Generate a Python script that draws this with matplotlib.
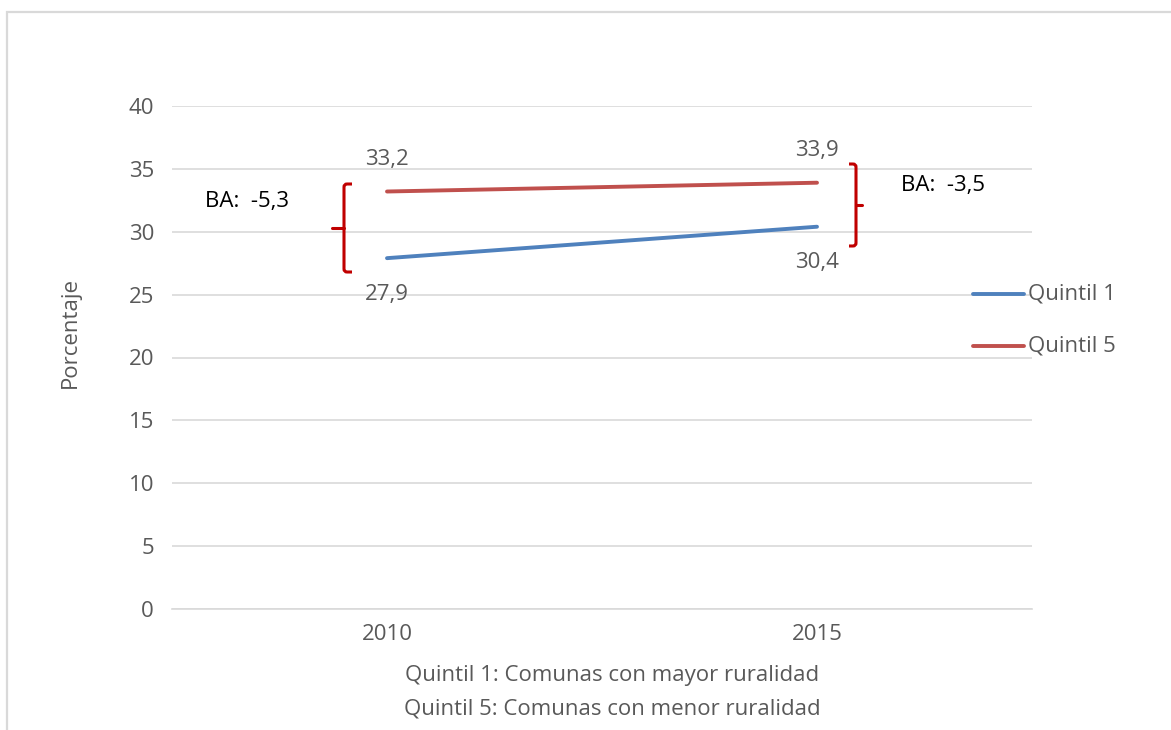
import matplotlib
matplotlib.use("Agg")
import matplotlib.pyplot as plt
from matplotlib.patches import Rectangle
from matplotlib.path import Path
from matplotlib.patches import PathPatch

years = ["2010", "2015"]
quintil_1 = [27.9, 30.4]
quintil_5 = [33.2, 33.9]
series_names = ["Quintil 1", "Quintil 5"]
gap_labels = ["BA:  -5,3", "BA:  -3,5"]
notes = ["Quintil 1: Comunas con mayor ruralidad",
         "Quintil 5: Comunas con menor ruralidad"]
y_ticks = [0, 5, 10, 15, 20, 25, 30, 35, 40]

W, H = 1171, 730
plt.rcParams["font.family"] = ["Open Sans", "DejaVu Sans"]
TXT = "#595959"
BLUE = "#4F81BD"
RED = "#C0504D"
DARKRED = "#C00000"
FS = 16

fig = plt.figure(figsize=(W / 100, H / 100), dpi=100)


def fx(px):
    return px / W


def fy(py):
    return 1 - py / H


# outer chart frame
fig.patches.append(Rectangle((fx(7), fy(740)), fx(1180) - fx(7), fy(12) - fy(740),
                             transform=fig.transFigure, fill=False,
                             edgecolor="#D9D9D9", linewidth=1.6))

ax = fig.add_axes([fx(172), fy(609), fx(1032) - fx(172), fy(106) - fy(609)])
ax.set_xlim(-0.5, 1.5)
ax.set_ylim(0, 40)
x = list(range(len(years)))

for s in ["top", "right", "left"]:
    ax.spines[s].set_visible(False)
ax.spines["bottom"].set_color("#D9D9D9")
ax.spines["bottom"].set_linewidth(1.2)
ax.set_yticks(y_ticks)
ax.yaxis.grid(True, color="#D9D9D9", linewidth=1.2)
ax.set_axisbelow(True)
ax.set_xticks(x)
ax.set_xticklabels(years)
ax.tick_params(axis="both", length=0, colors=TXT, labelsize=FS)
ax.tick_params(axis="y", pad=13)
ax.tick_params(axis="x", pad=11)

# axis title
fig.text(fx(70), fy(332), "Porcentaje", rotation=90, ha="center", va="center",
         color=TXT, fontsize=FS)

l1, = ax.plot(x, quintil_1, color=BLUE, linewidth=2.8, solid_capstyle="round")
l5, = ax.plot(x, quintil_5, color=RED, linewidth=2.8, solid_capstyle="round")

# value labels
for i, v in enumerate(quintil_5):
    ax.annotate(f"{v:.1f}".replace(".", ","), (i, v), xytext=(0, 23),
                textcoords="offset points", ha="center", va="center",
                color=TXT, fontsize=FS)
for i, v in enumerate(quintil_1):
    ax.annotate(f"{v:.1f}".replace(".", ","), (i, v), xytext=(0, -26),
                textcoords="offset points", ha="center", va="center",
                color=TXT, fontsize=FS)

# legend at the right of the plot
for line, name, ly in zip([l1, l5], series_names, [294, 346]):
    fig.lines.append(plt.Line2D([fx(973), fx(1024)], [fy(ly), fy(ly)],
                                transform=fig.transFigure, color=line.get_color(),
                                linewidth=line.get_linewidth(),
                                solid_capstyle="round"))
    fig.text(fx(1028), fy(ly), name, ha="left", va="center", color=TXT, fontsize=FS)


def bracket(x_line, y_top, y_bot, serif, nub):
    ym = (y_top + y_bot) / 2
    r = 3
    sgn = 1 if serif > 0 else -1
    verts = [
        (fx(x_line + serif), fy(y_top)),
        (fx(x_line + r * sgn), fy(y_top)),
        (fx(x_line), fy(y_top)),
        (fx(x_line), fy(y_top + r)),
        (fx(x_line), fy(y_bot - r)),
        (fx(x_line), fy(y_bot)),
        (fx(x_line + r * sgn), fy(y_bot)),
        (fx(x_line + serif), fy(y_bot)),
    ]
    codes = [Path.MOVETO, Path.LINETO, Path.CURVE3, Path.CURVE3,
             Path.LINETO, Path.CURVE3, Path.CURVE3, Path.LINETO]
    fig.patches.append(PathPatch(Path(verts, codes), transform=fig.transFigure,
                                 fill=False, edgecolor=DARKRED, linewidth=2.2))
    fig.lines.append(plt.Line2D([fx(x_line), fx(x_line + nub)], [fy(ym), fy(ym)],
                                transform=fig.transFigure, color=DARKRED,
                                linewidth=2.2, solid_capstyle="round"))


bracket(344, 184, 272, 8, -12)
bracket(856, 164, 246, -7, 6)

fig.text(fx(205), fy(202), gap_labels[0], ha="left", va="center",
         color="black", fontsize=FS)
fig.text(fx(901), fy(186), gap_labels[1], ha="left", va="center",
         color="black", fontsize=FS)

fig.text(fx(612), fy(676), notes[0], ha="center", va="center", color=TXT, fontsize=FS)
fig.text(fx(612), fy(709), notes[1], ha="center", va="center", color=TXT, fontsize=FS)

fig.savefig("out.png", dpi=100, facecolor="white")
